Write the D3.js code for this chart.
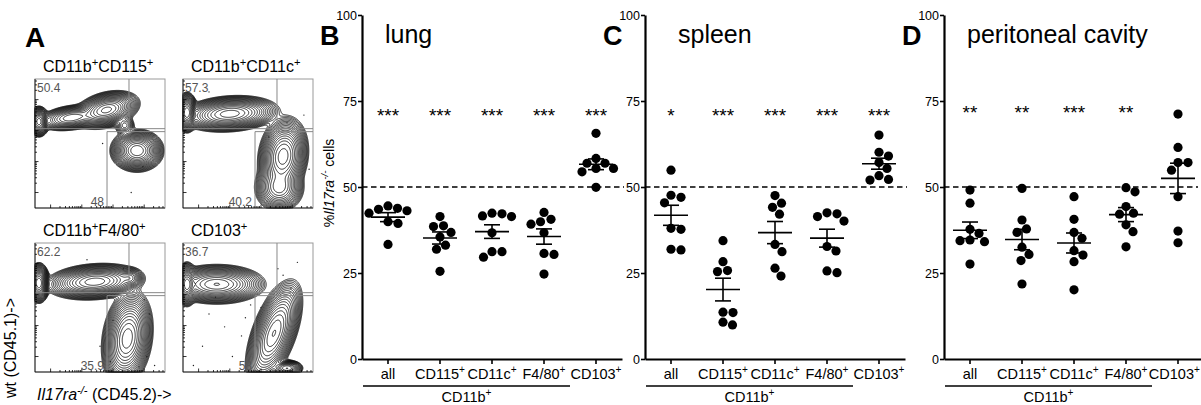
<!DOCTYPE html>
<html>
<head>
<meta charset="utf-8">
<script src="https://cdn.jsdelivr.net/npm/d3@7"></script>
<style>
  body { margin: 0; background: #fff; }
  svg { display: block; font-family: "Liberation Sans", Arial, sans-serif; }
</style>
</head>
<body>
<svg id="fig" width="1201" height="405"></svg>
<script>
// ---- data ----
var categories = ["all", "CD115+", "CD11c+", "F4/80+", "CD103+"];

var lung = [
  [44.5, 43.8, 43.5, 43.1, 42.4, 39.9, 39.4, 33.3],
  [41.4, 38.7, 38.5, 36.8, 35.5, 33.1, 31.9, 25.5],
  [42.4, 42.2, 41.6, 41.4, 36.7, 31.2, 31.2, 29.6],
  [42.6, 40.6, 39.9, 39.2, 36.7, 30.7, 30.4, 24.7],
  [65.6, 58.3, 56.9, 56.9, 55.4, 55.4, 54.4, 49.9]
];
var spleen = [
  [54.9, 47.6, 47.0, 45.4, 38.0, 37.7, 31.9, 31.7],
  [34.4, 28.3, 25.7, 25.4, 13.6, 13.5, 10.7, 9.9],
  [47.5, 45.3, 44.1, 42.1, 33.3, 31.2, 26.4, 24.1],
  [42.5, 42.2, 41.4, 40.1, 32.7, 31.4, 25.6, 25.1],
  [65.1, 60.1, 59.0, 57.1, 55.4, 53.3, 52.2, 52.0]
];
var peritoneal = [
  [49.1, 45.3, 37.7, 36.5, 34.6, 34.4, 34.1, 27.6],
  [49.6, 40.4, 37.8, 36.8, 32.5, 30.4, 28.6, 21.8],
  [47.2, 40.6, 36.8, 35.1, 31.5, 30.2, 28.3, 20.1],
  [49.8, 48.6, 44.3, 42.4, 42.1, 39.0, 37.0, 32.6],
  [71.2, 61.5, 57.1, 57.1, 54.9, 47.2, 37.2, 33.8]
];
var starsLung = ["***", "***", "***", "***", "***"];
var starsSpleen = ["*", "***", "***", "***", "***"];
var starsPeritoneal = ["**", "**", "***", "**", ""];
var yTicks = [0, 25, 50, 75, 100];

var flowTitles = ["CD11b+CD115+", "CD11b+CD11c+", "CD11b+F4/80+", "CD103+"];
var flowUpper = ["50.4", "57.3", "62.2", "36.7"];
var flowLower = ["48", "40.2", "35.9", "58"];
// populations: [u, v, sx, sy, angle deg, weight] in plot-fraction units
var flowBlobs = [
  [[0.55, 0.76, 0.080, 0.042, 15, 1.0], [0.28, 0.70, 0.085, 0.032, 8, 0.35],
   [0.03, 0.67, 0.025, 0.037, 0, 0.8], [0.785, 0.445, 0.062, 0.050, 0, 1.2],
   [0.69, 0.64, 0.030, 0.030, 0, 0.07]],
  [[0.36, 0.73, 0.115, 0.042, 4, 1.0], [0.03, 0.74, 0.025, 0.047, 0, 1.1],
   [0.77, 0.40, 0.058, 0.095, -8, 1.0], [0.74, 0.16, 0.062, 0.062, 0, 0.4]],
  [[0.46, 0.70, 0.115, 0.042, 4, 1.0], [0.03, 0.69, 0.025, 0.047, 0, 1.1],
   [0.73, 0.73, 0.035, 0.028, 0, 0.12], [0.71, 0.26, 0.058, 0.115, -8, 1.0]],
  [[0.26, 0.68, 0.115, 0.047, 0, 1.0], [0.03, 0.68, 0.025, 0.052, 0, 1.2],
   [0.70, 0.30, 0.052, 0.135, -20, 1.0], [0.80, 0.03, 0.042, 0.022, 0, 0.3]]
];
// stray events outside the main populations [u, v]
var flowEvents = [
  [[0.72, 0.70], [0.83, 0.32], [0.74, 0.12], [0.52, 0.50], [0.66, 0.58]],
  [[0.80, 0.66], [0.93, 0.72], [0.66, 0.55], [0.97, 0.30], [0.20, 0.90]],
  [[0.68, 0.80], [0.75, 0.62], [0.58, 0.08], [0.86, 0.12], [0.92, 0.05], [0.80, 0.04],
   [0.60, 0.40], [0.88, 0.45], [0.50, 0.20], [0.84, 0.56], [0.40, 0.87]],
  [[0.77, 0.75], [0.83, 0.65], [0.73, 0.80], [0.88, 0.85], [0.20, 0.45], [0.32, 0.35],
   [0.15, 0.20], [0.45, 0.28], [0.08, 0.05], [0.52, 0.52], [0.38, 0.12], [0.60, 0.50],
   [0.25, 0.58], [0.48, 0.42]]
];

// ---- layout ----
var svg = d3.select("#fig");
var font = 14.5;
var y = d3.scaleLinear().domain([0, 100]).range([359, 15]);

function addRich(text, parts, size) {
  var shift = 0;
  parts.forEach(function(p) {
    var sup = p[1].indexOf("s") >= 0;
    var target = sup ? -size * 0.4 : 0;
    text.append("tspan")
      .attr("dy", target - shift)
      .style("font-size", (sup ? size * 0.7 : size) + "px")
      .style("font-style", p[1].indexOf("i") >= 0 ? "italic" : "normal")
      .text(p[0]);
    shift = target;
  });
}
function plusParts(str) {
  return str.split(/(\+)/).filter(function(s) { return s; })
    .map(function(s) { return [s, s == "+" ? "s" : ""]; });
}

function swarm(vals, r) {
  var pts = vals.map(function(v) { return { v: v, y: y(v) }; })
    .sort(function(a, b) { return a.y - b.y; });
  var placed = [];
  pts.forEach(function(p) {
    for (var k = 0; k < 400; k++) {
      var off = (k % 2 ? 1 : -1) * Math.ceil(k / 2) * 0.5;
      var ok = placed.every(function(q) {
        var dx = q.x - off, dy = q.y - p.y;
        return dx * dx + dy * dy >= (2 * r + 0.6) * (2 * r + 0.6);
      });
      if (ok) { p.x = off; break; }
    }
    placed.push(p);
  });
  return placed;
}

var panels = [
  { letter: "B", title: "lung", axisX: 362, titleX: 385, data: lung, stars: starsLung, starY: 122, ylabel: true },
  { letter: "C", title: "spleen", axisX: 645, titleX: 678, data: spleen, stars: starsSpleen, starY: 122 },
  { letter: "D", title: "peritoneal cavity", axisX: 944, titleX: 967, data: peritoneal, stars: starsPeritoneal, starY: 119 }
];

panels.forEach(function(p) {
  var g = svg.append("g");
  var x = d3.scaleBand().domain(categories).range([p.axisX, p.axisX + 260]);
  var cx = function(c) { return x(c) + x.bandwidth() / 2; };

  g.append("text").attr("x", p.axisX - 42).attr("y", 45)
    .style("font-size", "27px").style("font-weight", "bold").text(p.letter);
  g.append("text").attr("x", p.titleX).attr("y", 43)
    .style("font-size", "25px").text(p.title);

  // 50% reference
  g.append("line")
    .attr("x1", p.axisX).attr("x2", Math.min(p.axisX + 262, 1198))
    .attr("y1", y(50)).attr("y2", y(50))
    .attr("stroke", "#000").attr("stroke-width", 1.6).attr("stroke-dasharray", "5.5,3.5");

  var ya = g.append("g").attr("transform", "translate(" + p.axisX + ",0)")
    .call(d3.axisLeft(y).tickValues(yTicks).tickSize(4).tickSizeOuter(0).tickPadding(1));
  var xa = g.append("g").attr("transform", "translate(0," + y(0) + ")")
    .call(d3.axisBottom(x).tickSize(5).tickSizeOuter(0).tickFormat(""));
  [ya, xa].forEach(function(a) {
    a.select(".domain").attr("stroke-width", 2.2);
    a.selectAll(".tick line").attr("stroke-width", 1.6);
  });
  ya.selectAll("text").attr("font-family", null).style("font-size", "12.5px").attr("fill", "#000");

  categories.forEach(function(c) {
    var t = g.append("text").attr("x", cx(c)).attr("y", 379).attr("text-anchor", "middle");
    addRich(t, plusParts(c), font);
    // keep the last label inside the page
    var bb = t.node().getBBox();
    if (bb.x + bb.width > 1200) t.attr("x", cx(c) - (bb.x + bb.width - 1200));
  });
  var ux0 = p.axisX + 1, ux1 = x(categories[3]) + x.bandwidth();
  g.append("line").attr("x1", ux0).attr("x2", ux1).attr("y1", 386).attr("y2", 386)
    .attr("stroke", "#000").attr("stroke-width", 1.6);
  var lt = g.append("text").attr("x", (ux0 + ux1) / 2).attr("y", 402).attr("text-anchor", "middle");
  addRich(lt, plusParts("CD11b+"), font);

  if (p.ylabel) {
    var yl = g.append("text").attr("transform", "translate(334,183) rotate(-90)")
      .attr("text-anchor", "middle");
    addRich(yl, [["%", ""], ["Il17ra", "i"], ["-/-", "is"], [" cells", ""]], 14);
  }

  categories.forEach(function(c, i) {
    var vals = p.data[i];
    var m = d3.mean(vals), sem = d3.deviation(vals) / Math.sqrt(vals.length);
    var c0 = cx(c);
    g.append("g").selectAll("circle").data(swarm(vals, 4.6)).join("circle")
      .attr("cx", function(d) { return c0 + d.x; })
      .attr("cy", function(d) { return d.y; })
      .attr("r", 4.6).attr("fill", "#000");
    var eg = g.append("g").attr("stroke", "#000").attr("stroke-width", 1.6);
    eg.append("line").attr("x1", c0 - 17).attr("x2", c0 + 17).attr("y1", y(m)).attr("y2", y(m));
    eg.append("line").attr("x1", c0).attr("x2", c0).attr("y1", y(m - sem)).attr("y2", y(m + sem));
    [m - sem, m + sem].forEach(function(v) {
      eg.append("line").attr("x1", c0 - 8).attr("x2", c0 + 8).attr("y1", y(v)).attr("y2", y(v));
    });
    if (p.stars[i]) {
      g.append("text").attr("x", c0).attr("y", p.starY).attr("text-anchor", "middle")
        .style("font-size", "19px").text(p.stars[i]);
    }
  });
});

// ---- panel A: flow plots ----
svg.append("text").attr("x", 25).attr("y", 47)
  .style("font-size", "28px").style("font-weight", "bold").text("A");

var boxes = [[35, 79], [183, 79], [35, 243], [183, 243]];
var bw = 130, bh = 129;
var gateU = 0.723, gateUpperV = 0.615, gateLowerU = 0.554, gateLowerV = 0.592;

var logTicks = [];
[0, 1, 2, 3].forEach(function(d) {
  var base = 0.12 + 0.24 * d;
  d3.range(1, 10).forEach(function(k) {
    var u = base + 0.24 * Math.log10(k);
    if (u < 0.99) logTicks.push({ u: u, major: k == 1 });
  });
});

boxes.forEach(function(b, pi) {
  var g = svg.append("g").attr("transform", "translate(" + b[0] + "," + b[1] + ")");
  var sx = d3.scaleLinear().domain([0, 1]).range([0, bw]);
  var sy = d3.scaleLinear().domain([0, 1]).range([bh, 0]);

  var vals = new Float64Array(bw * bh);
  for (var j = 0; j < bh; j++) {
    for (var i = 0; i < bw; i++) {
      var u = (i + 0.5) / bw, v = 1 - (j + 0.5) / bh, s = 0;
      flowBlobs[pi].forEach(function(q) {
        var a = q[4] * Math.PI / 180, du = u - q[0], dv = v - q[1];
        var p1 = (du * Math.cos(a) + dv * Math.sin(a)) / q[2];
        var p2 = (-du * Math.sin(a) + dv * Math.cos(a)) / q[3];
        s += q[5] * Math.exp(-0.5 * (p1 * p1 + p2 * p2));
      });
      vals[j * bw + i] = s;
    }
  }
  var mx = d3.max(vals);
  var levels = d3.range(1, 20).map(function(k) { return mx * Math.pow(0.74, k); });
  g.append("g").selectAll("path")
    .data(d3.contours().size([bw, bh]).thresholds(levels)(vals))
    .join("path").attr("d", d3.geoPath())
    .attr("fill", "none").attr("stroke", "#000").attr("stroke-width", 0.8);

  g.append("g").selectAll("circle").data(flowEvents[pi]).join("circle")
    .attr("cx", function(d) { return sx(d[0]); }).attr("cy", function(d) { return sy(d[1]); })
    .attr("r", 0.7).attr("fill", "#222");

  // frame and gates
  g.append("rect").attr("width", bw).attr("height", bh)
    .attr("fill", "none").attr("stroke", "#999").attr("stroke-width", 1);
  var gate = g.append("g").attr("stroke", "#888").attr("stroke-width", 1).attr("fill", "none");
  gate.append("path").attr("d", "M0," + sy(gateUpperV) + "H" + sx(gateU) + "V0");
  gate.append("path").attr("d", "M" + sx(gateLowerU) + "," + bh + "V" + sy(gateLowerV) + "H" + bw);
  gate.append("path").attr("d", "M" + sx(gateU) + "," + sy(gateUpperV) + "H" + bw);

  // axes ticks
  var tg = g.append("g").attr("stroke", "#000").attr("stroke-width", 0.8);
  tg.append("line").attr("x1", 0).attr("x2", 0).attr("y1", 0).attr("y2", bh);
  tg.append("line").attr("x1", 0).attr("x2", bw).attr("y1", bh).attr("y2", bh);
  tg.selectAll(".tb").data(logTicks).join("line").attr("class", "tb")
    .attr("x1", function(d) { return sx(d.u); }).attr("x2", function(d) { return sx(d.u); })
    .attr("y1", bh).attr("y2", function(d) { return bh - (d.major ? 3.5 : 2); });
  tg.selectAll(".tl").data(logTicks).join("line").attr("class", "tl")
    .attr("y1", function(d) { return sy(d.u); }).attr("y2", function(d) { return sy(d.u); })
    .attr("x1", 0).attr("x2", function(d) { return d.major ? 3.5 : 2; });

  g.append("text").attr("x", 2).attr("y", 13).attr("fill", "#555")
    .style("font-size", "12px").text(flowUpper[pi]);
  g.append("text").attr("x", sx(gateLowerU) - 3).attr("y", bh - 2).attr("text-anchor", "end")
    .attr("fill", "#555").style("font-size", "12px").text(flowLower[pi]);

  var tt = g.append("text").attr("x", 8).attr("y", -7);
  addRich(tt, plusParts(flowTitles[pi]), 16);
});

var xl = svg.append("text").attr("x", 37).attr("y", 400);
addRich(xl, [["Il17ra", "i"], ["-/-", "is"], [" (CD45.2)->", ""]], 16);
var wl = svg.append("text").attr("transform", "translate(16,348) rotate(-90)").attr("text-anchor", "middle");
addRich(wl, [["wt (CD45.1)->", ""]], 16);
</script>
</body>
</html>
